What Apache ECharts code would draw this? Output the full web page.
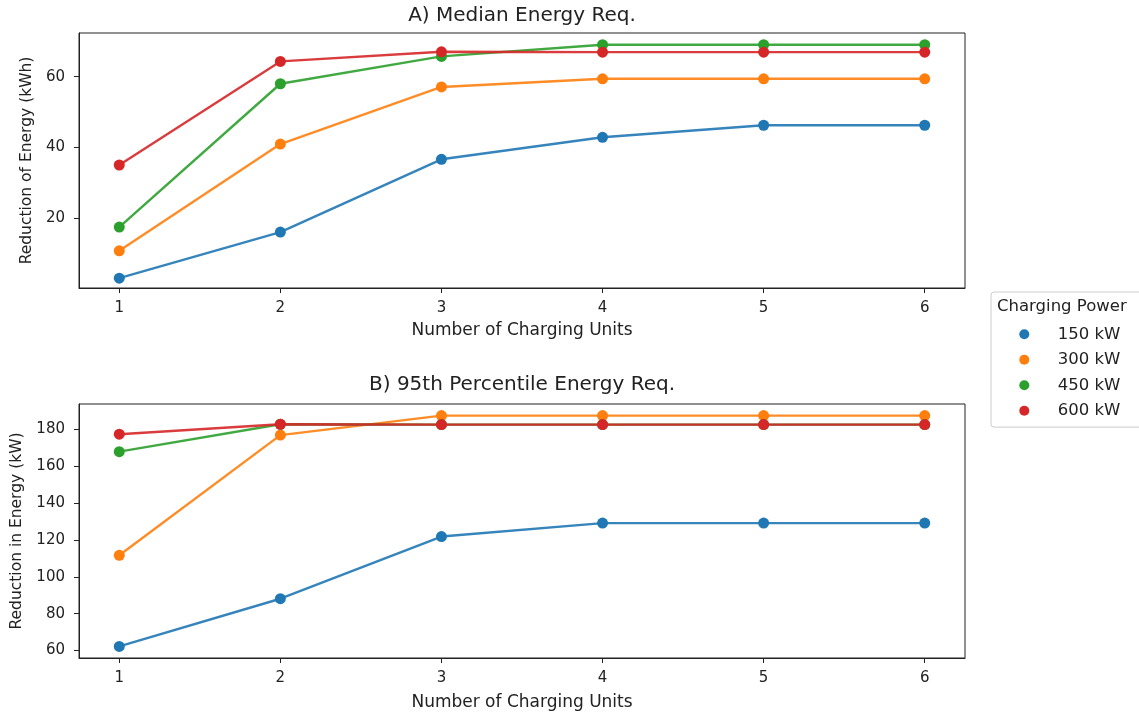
<!DOCTYPE html>
<html>
<head>
<meta charset="utf-8">
<title>Energy reduction by charging units</title>
<script src="https://cdn.jsdelivr.net/npm/echarts@6/dist/echarts.min.js"></script>
<style>
  html, body { margin: 0; padding: 0; background: #fff; }
  #chart { width: 1139px; height: 715px; }
</style>
</head>
<body>
<div id="chart"></div>
<script>
// Number of charging units on the x axis
const units = [1, 2, 3, 4, 5, 6];
const powerLabels = ['150 kW', '300 kW', '450 kW', '600 kW'];
const colors = ['#1f77b4', '#ff7f0e', '#2ca02c', '#d62728'];

// A) Median energy requirement reduction (kWh)
const median150 = [3.2, 16.2, 36.7, 42.9, 46.3, 46.3];
const median300 = [10.9, 41.0, 57.1, 59.4, 59.4, 59.4];
const median450 = [17.6, 58.0, 65.7, 69.0, 69.0, 69.0];
const median600 = [35.1, 64.3, 67.0, 66.9, 66.9, 66.9];

// B) 95th percentile energy requirement reduction (kW)
const p95_150 = [62.2, 88.1, 121.9, 129.2, 129.2, 129.2];
const p95_300 = [111.7, 177.0, 187.6, 187.6, 187.6, 187.6];
const p95_450 = [168.0, 182.9, 182.7, 182.7, 182.7, 182.7];
const p95_600 = [177.5, 182.9, 182.7, 182.7, 182.7, 182.7];

// Tick labels
const xTicks = [1, 2, 3, 4, 5, 6];
const yTicksA = [20, 40, 60];
const yTicksB = [60, 80, 100, 120, 140, 160, 180];

const FONT = 'DejaVu Sans';
const INK = '#222222';

const medianSets = [median150, median300, median450, median600];
const p95Sets = [p95_150, p95_300, p95_450, p95_600];

function pairs(vals) {
  return units.map((u, i) => [u, vals[i]]);
}

function makeSeries(sets, gridIdx) {
  return sets.map((vals, k) => ({
    name: powerLabels[k],
    type: 'line',
    xAxisIndex: gridIdx,
    yAxisIndex: gridIdx,
    data: pairs(vals),
    symbol: 'circle',
    symbolSize: 11,
    showSymbol: true,
    lineStyle: { width: 2.4, color: colors[k], opacity: 0.9 },
    itemStyle: { color: colors[k], borderWidth: 0 },
    z: 2 + k,
    silent: true,
    animation: false
  }));
}

function xAxisCfg(gridIdx) {
  return {
    type: 'value',
    gridIndex: gridIdx,
    min: 0.75,
    max: 6.25,
    name: 'Number of Charging Units',
    nameLocation: 'middle',
    nameGap: gridIdx === 0 ? 34 : 36,
    nameTextStyle: { fontFamily: FONT, fontSize: 17, color: INK },
    axisLine: { show: true, onZero: false, lineStyle: { color: INK, width: 1 } },
    axisTick: { show: true, inside: false, length: 5, customValues: xTicks, lineStyle: { color: INK, width: 1 } },
    axisLabel: { fontFamily: FONT, fontSize: 15, color: INK, margin: 13, customValues: xTicks },
    splitLine: { show: false }
  };
}

function yAxisCfg(gridIdx, min, max, ticks, name, gap) {
  return {
    type: 'value',
    gridIndex: gridIdx,
    min: min,
    max: max,
    name: name,
    nameLocation: 'middle',
    nameRotate: 90,
    nameGap: gap,
    nameTextStyle: { fontFamily: FONT, fontSize: 15.5, color: INK },
    axisLine: { show: true, onZero: false, lineStyle: { color: INK, width: 1 } },
    axisTick: { show: true, inside: false, length: 5, customValues: ticks, lineStyle: { color: INK, width: 1 } },
    axisLabel: { fontFamily: FONT, fontSize: 15, color: INK, margin: 14, customValues: ticks },
    splitLine: { show: false }
  };
}

const chart = echarts.init(document.getElementById('chart'), null, { renderer: 'canvas' });

chart.setOption({
  animation: false,
  backgroundColor: '#ffffff',
  title: [
    {
      text: 'A) Median Energy Req.',
      left: 522, top: 5.5, padding: 0, textAlign: 'center',
      textStyle: { fontFamily: FONT, fontSize: 20, fontWeight: 'normal', color: INK }
    },
    {
      text: 'B) 95th Percentile Energy Req.',
      left: 522, top: 374.5, padding: 0, textAlign: 'center',
      textStyle: { fontFamily: FONT, fontSize: 20, fontWeight: 'normal', color: INK }
    },
    {
      text: 'Charging Power',
      left: 997, top: 298.5, padding: 0,
      textStyle: { fontFamily: FONT, fontSize: 16.5, fontWeight: 'normal', color: INK },
      z: 10
    }
  ],
  legend: {
    orient: 'vertical',
    left: 991,
    top: 292,
    data: powerLabels,
    icon: 'circle',
    itemWidth: 10,
    itemHeight: 10,
    itemGap: 7.5,
    padding: [33.3, 23.3, 7.3, 28.3],
    backgroundColor: '#ffffff',
    borderColor: '#cccccc',
    borderWidth: 1,
    borderRadius: 3,
    selectedMode: false,
    textStyle: {
      fontFamily: FONT, fontSize: 16.5, color: INK,
      lineHeight: 18, width: 56, padding: [0, 0, 0, 23.4]
    },
    z: 5
  },
  grid: [
    { left: 79, top: 33, width: 886, height: 255, show: true, borderColor: INK, borderWidth: 1, backgroundColor: 'transparent' },
    { left: 79, top: 404, width: 886, height: 254, show: true, borderColor: INK, borderWidth: 1, backgroundColor: 'transparent' }
  ],
  xAxis: [xAxisCfg(0), xAxisCfg(1)],
  yAxis: [
    yAxisCfg(0, 0.43, 72.3, yTicksA, 'Reduction of Energy (kWh)', 42),
    yAxisCfg(1, 55.9, 193.9, yTicksB, 'Reduction in Energy (kW)', 54)
  ],
  series: [].concat(makeSeries(medianSets, 0), makeSeries(p95Sets, 1))
});
</script>
</body>
</html>
